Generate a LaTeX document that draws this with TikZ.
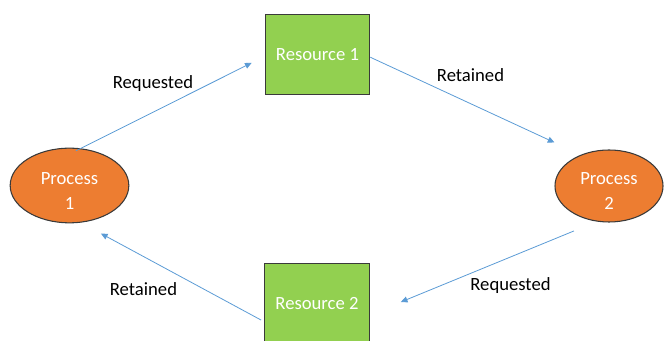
\documentclass[tikz,border=0pt]{standalone}
\usepackage{fontspec}
\setmainfont{Carlito}
\usetikzlibrary{arrows.meta,shapes.geometric}

\definecolor{procorange}{HTML}{ED7D31}
\definecolor{resgreen}{HTML}{92D050}
\definecolor{flowblue}{HTML}{5B9BD5}
\definecolor{edgegray}{HTML}{3A3A3A}

\begin{document}
\begin{tikzpicture}[x=0.75pt, y=-0.75pt,
        font=\fontsize{14}{18.75}\selectfont,
        process/.style={ellipse, draw=edgegray, line width=0.8pt, fill=procorange, text=white,
            align=center, inner sep=0pt, minimum width=89pt, minimum height=56pt},
        resource/.style={rectangle, draw=edgegray, line width=0.8pt, fill=resgreen, text=white,
            inner sep=0pt, minimum width=78.5pt, minimum height=60.5pt},
        flow/.style={draw=flowblue, line width=0.6pt, -{Triangle[length=5pt, width=4.5pt]}}]
        \clip (0, 0) rectangle (664, 341);
        % nodes
        \node[process] (p1) at (69.5, 185.5) {\rule{0pt}{17.5pt}Process\\1};
        \node[process, minimum width=81pt, minimum height=54pt] (p2) at (609, 186) {\rule{0pt}{17pt}Process\\2};
        \node[resource] (r1) at (317.5, 54.5) {Resource 1};
        \node[resource] (r2) at (317, 303.5) {Resource 2};
        % connectors
        \draw[flow, shorten <=-4.2pt, shorten >=10.9pt] (p1.73) -- (r1.182);
        \draw[flow, shorten >=21.8pt] (r1.-3) -- (p2.132);
        \draw[flow, shorten <=18.5pt, shorten >=25.1pt] (p2.251) -- (r2.-12);
        \draw[flow, shorten <=2.6pt, shorten >=17.1pt] (r2.199) -- (p1.-73);
        % labels
        \node (lreq1) at (153, 84) {Requested};
        \node (lret1) at (470.5, 75) {Retained};
        \node (lreq2) at (510.5, 286) {Requested};
        \node (lret2) at (143.5, 289) {Retained};
\end{tikzpicture}
\end{document}
